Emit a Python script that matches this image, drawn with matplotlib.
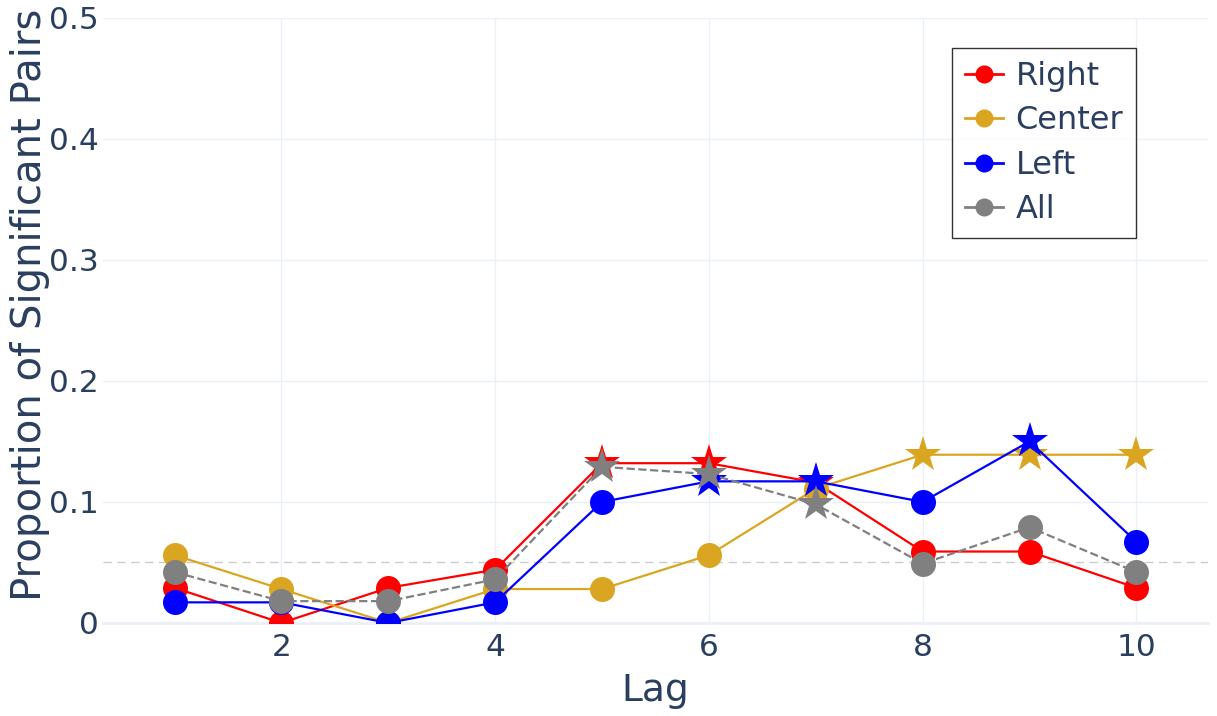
import matplotlib.pyplot as plt

lags = [1, 2, 3, 4, 5, 6, 7, 8, 9, 10]

right = [0.029, 0.0, 0.029, 0.044, 0.132, 0.132, 0.116, 0.059, 0.059, 0.029]
center = [0.056, 0.028, 0.0, 0.028, 0.028, 0.056, 0.111, 0.139, 0.139, 0.139]
left = [0.017, 0.017, 0.0, 0.017, 0.100, 0.117, 0.117, 0.100, 0.150, 0.067]
all_ = [0.042, 0.018, 0.018, 0.036, 0.129, 0.123, 0.098, 0.049, 0.079, 0.042]

# lags where the value is significant (drawn as stars)
right_sig = [5, 6, 7]
center_sig = [8, 9, 10]
left_sig = [6, 7, 9]
all_sig = [5, 6, 7]

threshold = 0.05
yticks = [0, 0.1, 0.2, 0.3, 0.4, 0.5]
ytick_labels = ['0', '0.1', '0.2', '0.3', '0.4', '0.5']
xticks = [2, 4, 6, 8, 10]

series = [
    ('Right', right, right_sig, 'red', '-'),
    ('Center', center, center_sig, 'goldenrod', '-'),
    ('Left', left, left_sig, 'blue', '-'),
    ('All', all_, all_sig, 'grey', '--'),
]

plt.rcParams['font.family'] = ['DejaVu Sans']
text_color = '#2a3f5f'
grid_color = '#ebf0f8'

fig = plt.figure(figsize=(12.17, 7.16), dpi=100)
ax = fig.add_axes([0.0846, 0.13, 0.908, 0.845])

ax.axhline(threshold, color='#cccccc', lw=1, ls=(0, (6, 4)), zorder=1)

z = 3
for name, vals, sig, color, ls in series:
    ax.plot(lags, vals, color=color, lw=1.6, ls=ls, zorder=z)
    circ_x = [x for x in lags if x not in sig]
    circ_y = [v for x, v in zip(lags, vals) if x not in sig]
    star_x = [x for x in lags if x in sig]
    star_y = [v for x, v in zip(lags, vals) if x in sig]
    ax.plot(circ_x, circ_y, 'o', color=color, markersize=18, mew=0, zorder=z + 0.5)
    ax.plot(star_x, star_y, '*', color=color, markersize=27, mew=0, zorder=z + 0.5)
    z += 1

ax.set_xlim(0.33, 10.67)
ax.set_ylim(0, 0.5)
ax.set_xticks(xticks)
ax.set_yticks(yticks)
ax.set_yticklabels(ytick_labels)
ax.tick_params(axis='both', length=0, labelsize=22.5, colors=text_color)
ax.tick_params(axis='x', pad=7)
ax.tick_params(axis='y', pad=3)
ax.grid(True, color=grid_color, lw=1)
ax.set_axisbelow(True)
for s in ['top', 'right', 'left']:
    ax.spines[s].set_visible(False)
ax.spines['bottom'].set_color(grid_color)
ax.spines['bottom'].set_linewidth(2)

ax.set_xlabel('Lag', fontsize=27, color=text_color, labelpad=8)
ax.set_ylabel('Proportion of Significant Pairs', fontsize=29, color=text_color, labelpad=-1)
ax.yaxis.label.set_y(0.525)

handles = []
for name, vals, sig, color, ls in series:
    h, = ax.plot([], [], color=color, lw=2, marker='o', markersize=13, mew=0)
    handles.append(h)
leg = ax.legend(handles, [s[0] for s in series], loc='upper right',
                bbox_to_anchor=(0.935, 0.95), borderaxespad=0, fontsize=23,
                frameon=True, fancybox=False, handlelength=1.2, handletextpad=0.4,
                labelspacing=0.42, borderpad=0.4, labelcolor=text_color)
leg.get_frame().set_edgecolor('black')
leg.get_frame().set_linewidth(1)

fig.savefig('out.png', dpi=100)
